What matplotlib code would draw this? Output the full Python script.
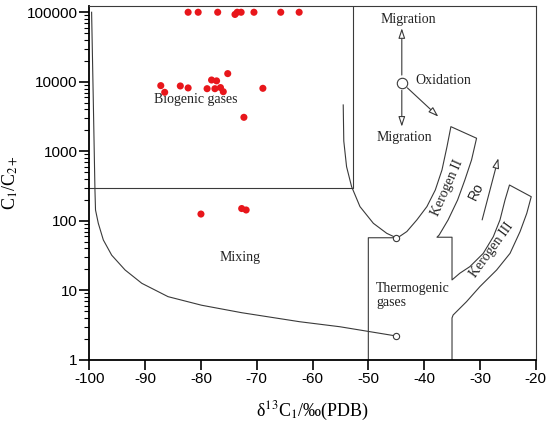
import matplotlib
matplotlib.use("Agg")
import matplotlib.pyplot as plt
from matplotlib import ticker

plt.rcParams['mathtext.fontset'] = 'stix'
plt.rcParams['axes.unicode_minus'] = False

LINE = '#3a3a3a'
DOT = '#e8161b'
SERIF = 'Liberation Serif'
SANS = 'Liberation Sans'

# measured samples: delta13C1 (permil) and C1/C2+
d13c1 = [-82.3, -80.5, -77.0, -73.9, -73.5, -72.8, -70.5, -65.7, -62.4,
         -87.2, -86.5, -83.7, -82.3, -78.9, -78.1, -77.2, -77.5, -76.5,
         -76.0, -75.2, -68.9, -72.3,
         -80.0, -72.7, -71.9]
c1_c2 = [100000, 100000, 100000, 93000, 100000, 100000, 100000, 100000, 100000,
         8800, 7050, 8700, 8150, 7950, 10600, 10300, 7950, 8250,
         7200, 13100, 8050, 3080,
         125, 150, 143]

# biogenic box
bio_box_x = [-100, -52.8, -52.8]
bio_box_y = [300, 300, 123000]

# lower mixing curve (to the thermogenic end-member at the bottom)
mix_low_x = [-99.6, -99.3, -99.0, -98.9, -98.4, -97.5, -96.0, -93.6, -90.6,
             -85.9, -79.9, -72.7, -62.3, -55.1, -45.0]
mix_low_y = [100000, 5500, 277, 143, 92, 53, 32, 19.6, 12.6,
             8.1, 6.1, 4.76, 3.53, 2.99, 2.2]

# upper mixing curve
mix_up_x = [-54.5, -54.4, -53.9, -53.0, -51.5, -49.1, -46.7, -45.0]
mix_up_y = [4640, 1405, 600, 310, 160, 92, 66, 57]

# thermogenic field with kerogen II and III bands (one continuous outline)
thermo_x = [-50, -50, -45,
            -44.6, -43.1, -41.3, -39.5, -38.0, -36.8, -35.9, -35.2,
            -30.6,
            -31.5, -32.7, -34.0, -35.7, -37.3, -37.7,
            -35.0, -35.0,
            -33.6, -31.8, -29.4, -27.6, -26.4, -25.5, -24.7,
            -20.8,
            -21.6, -22.8, -24.6, -27.0, -30.0, -32.4, -34.8, -35.0, -35.0]
thermo_y = [1, 57, 57,
            58, 70, 103, 160, 277, 538, 1165, 2260,
            1540,
            750, 386, 199, 103, 62.5, 58,
            58, 14.1,
            17.6, 21.9, 34, 59, 103, 199, 327,
            222,
            128, 70, 34, 19.6, 11.3, 6.86, 4.41, 4.0, 1]

end_x = [-45, -45]
end_y = [57, 2.2]

oxid_x, oxid_y = -44.0, 9700
arrow_tips = [(-44.0, 58900), (-44.0, 2260), (-37.45, 3150)]
ro_start = (-29.6, 103)
ro_end = (-26.7, 794)

fig = plt.figure(figsize=(5.5, 4.23), dpi=100)
ax = fig.add_axes([0.1625, 0.1494, 0.8115, 0.8364])
ax.set_yscale('log')
ax.set_xlim(-100, -20)
ax.set_ylim(1, 123000)

ax.plot(bio_box_x, bio_box_y, color=LINE, lw=0.8)
ax.plot(mix_low_x, mix_low_y, color=LINE, lw=0.8)
ax.plot(mix_up_x, mix_up_y, color=LINE, lw=0.8)
ax.plot(thermo_x, thermo_y, color=LINE, lw=0.8)
ax.plot(end_x, end_y, 'o', ms=4.5, mfc='white', mec=LINE, mew=0.8, zorder=4)

ax.scatter(d13c1, c1_c2, s=26, color=DOT, edgecolors='none', zorder=5)

# oxidation / migration arrows
ax.plot([oxid_x], [oxid_y], 'o', ms=7.5, mfc='white', mec=LINE, mew=0.8, zorder=4)
for tip in arrow_tips:
    ax.annotate('', xy=tip, xytext=(oxid_x, oxid_y),
                arrowprops=dict(arrowstyle='-|>,head_length=0.6,head_width=0.2',
                                fc='white', ec=LINE, lw=0.8,
                                shrinkA=5.5, shrinkB=0))
ax.annotate('', xy=ro_end, xytext=ro_start,
            arrowprops=dict(arrowstyle='-|>,head_length=0.6,head_width=0.2',
                            fc='white', ec=LINE, lw=0.8, shrinkA=0, shrinkB=0))

tfont = dict(family=SERIF, fontsize=10, color='#222222')
ax.text(-80.9, 5470, 'Biogenic gases', ha='center', va='center', **tfont)
ax.text(-73.0, 29.4, 'Mixing', ha='center', va='center', **tfont)
ax.text(-42.8, 77600, 'Migration', ha='center', va='center', **tfont)
ax.text(-43.5, 1590, 'Migration', ha='center', va='center', **tfont)
ax.text(-41.6, 10260, 'Oxidation', ha='left', va='center', **tfont)
ax.text(-48.6, 8.3, 'Thermogenic\ngases', ha='left', va='center',
        linespacing=1.1, **tfont)
ax.text(-35.9, 300, 'Kerogen II', ha='center', va='center',
        rotation=66, rotation_mode='anchor', **tfont)
ax.text(-27.9, 38, 'Kerogen III', ha='center', va='center',
        rotation=54, rotation_mode='anchor', **tfont)
ax.text(-30.6, 262, 'Ro', ha='center', va='center', rotation=64,
        rotation_mode='anchor', family=SANS, fontsize=10, color='#222222')

# axes styling
for side in ['top', 'right']:
    ax.spines[side].set_color(LINE)
    ax.spines[side].set_linewidth(0.8)
for side in ['left', 'bottom']:
    ax.spines[side].set_color('black')
    ax.spines[side].set_linewidth(1.3)

ax.set_xticks(range(-100, -19, 10))
ax.set_yticks([1, 10, 100, 1000, 10000, 100000])
ax.yaxis.set_major_formatter(ticker.FuncFormatter(lambda v, pos: f"{int(round(v))}"))
ax.yaxis.set_minor_locator(ticker.LogLocator(base=10, subs=range(2, 10), numticks=20))
ax.yaxis.set_minor_formatter(ticker.NullFormatter())
ax.tick_params(axis='both', which='major', direction='out', length=7, width=1.2,
               labelsize=11, pad=1.5)
ax.tick_params(axis='y', which='minor', direction='out', length=3.5, width=0.8)
for lab in ax.get_xticklabels() + ax.get_yticklabels():
    lab.set_family(SANS)

ax.set_xlabel('δ$^{13}$C$_1$/‰(PDB)', family=SERIF, fontsize=13, labelpad=10)
ax.set_ylabel(r'C$_1$/C$_{2+}$', family=SERIF, fontsize=13, labelpad=5)

fig.savefig('out.png', dpi=100)
